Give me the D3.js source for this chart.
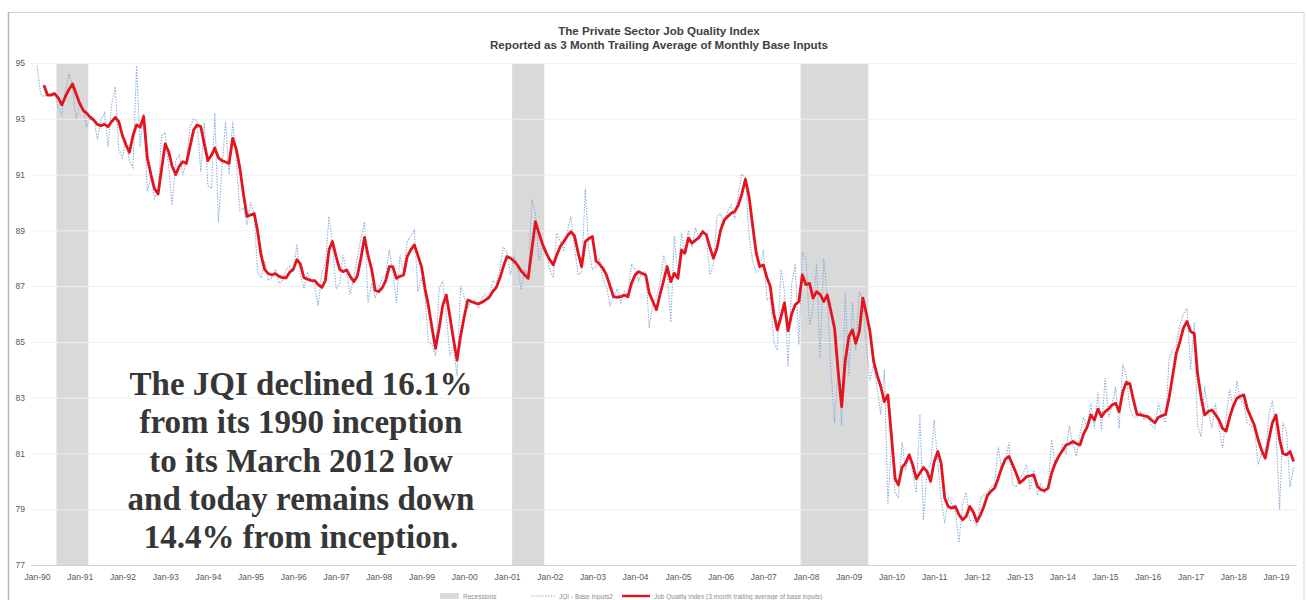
<!DOCTYPE html>
<html>
<head>
<meta charset="utf-8">
<script src="https://cdn.jsdelivr.net/npm/d3@7"></script>
<style>
  html, body { margin: 0; padding: 0; background: #fff; }
  svg { display: block; }
</style>
</head>
<body>
<script>
// Private Sector Job Quality Index, monthly from Jan 1990 to Jun 2019.

const titleLines = [
  "The Private Sector Job Quality Index",
  "Reported as 3 Month Trailing Average of Monthly Base Inputs"
];

const firstMonth = "1990-01";

// JQI monthly base inputs (one row per year)
const baseInputs = [
  94.9, 93.9, 93.8, 93.85, 93.9, 93.95, 93.4, 93.15, 94.0, 94.65, 94.1, 93.0,
  93.55, 93.35, 92.7, 93.1, 93.05, 92.25, 92.95, 93.2, 92.0, 93.5, 94.15, 91.9,
  91.6, 92.3, 91.5, 91.25, 94.9, 92.0, 93.2, 90.4, 90.9, 90.15, 90.4, 92.4,
  92.5, 91.2, 89.9, 91.5, 91.7, 91.0, 91.5, 92.7, 93.0, 92.9, 91.1, 92.85,
  90.6, 90.5, 93.2, 89.3, 91.2, 92.9, 91.0, 92.9, 91.5, 89.7, 89.8, 89.2,
  90.0, 89.6, 87.5, 87.3, 87.9, 87.2, 87.3, 87.6, 87.1, 87.2, 87.6, 87.7,
  87.5, 88.5, 87.4, 86.9, 87.5, 87.2, 87.0, 86.3, 87.5, 87.8, 89.5, 88.5,
  86.9, 87.1, 88.1, 87.5, 86.7, 87.3, 88.0, 88.7, 89.3, 86.4, 87.1, 86.6,
  86.9, 87.3, 87.4, 88.3, 87.5, 86.4, 88.1, 87.5, 88.6, 88.8, 89.0, 86.8,
  87.3, 86.6, 85.0, 84.9, 84.5, 86.9, 87.2, 86.0, 84.5, 84.8, 83.8, 87.0,
  86.6, 86.2, 86.5, 86.5, 86.2, 86.6, 86.7, 86.5, 87.2, 87.1, 87.6, 88.4,
  88.2, 87.4, 88.1, 87.7, 86.9, 87.6, 87.2, 90.1, 89.6, 87.9, 88.4, 88.3,
  87.6, 87.3, 88.9, 88.6, 88.3, 89.0, 89.5, 88.4, 87.4, 87.5, 90.5, 88.3,
  87.6, 87.7, 88.0, 87.2, 87.0, 86.3, 86.6, 86.9, 86.4, 86.8, 86.7, 87.8,
  87.6, 87.2, 87.5, 87.5, 85.5, 86.4, 86.6, 87.1, 88.1, 87.6, 85.7, 88.8,
  87.4, 88.9, 88.2, 89.0, 88.4, 89.1, 88.7, 89.0, 88.8, 87.4, 87.8, 89.5,
  89.6, 89.2, 89.7, 89.9, 89.4, 90.3, 91.0, 90.9, 88.8, 87.9, 87.5, 87.6,
  88.3, 86.5, 86.6, 85.0, 84.7, 87.6, 86.8, 84.1, 87.1, 87.8, 84.9, 88.2,
  88.0, 85.6, 86.2, 87.8, 84.4, 88.0, 86.6, 84.0, 82.1, 84.0, 82.0, 86.8,
  83.8, 86.4, 84.7, 86.8, 86.5, 84.8, 83.6, 84.2, 83.3, 82.4, 84.0, 79.2,
  81.4, 79.6, 79.4, 81.4, 80.4, 81.0, 80.3, 79.6, 82.4, 78.6, 80.4, 80.6,
  82.2, 80.6, 79.4, 78.5, 79.4, 79.2, 78.9, 77.8, 79.2, 79.6, 78.6, 78.6,
  78.4, 79.4, 79.5, 79.6, 79.8, 79.9, 81.25, 80.4, 80.7, 81.4, 79.9, 79.8,
  80.1, 80.3, 80.6, 79.7, 80.4, 79.5, 79.9, 79.6, 79.8, 81.5, 80.6, 80.8,
  81.3, 81.0, 82.0, 81.3, 80.9, 81.7, 82.3, 81.9, 82.8, 81.9, 83.2, 81.8,
  83.7, 82.3, 82.7, 83.4, 81.9, 84.2, 83.8, 82.6, 82.3, 82.3, 82.5, 82.2,
  82.3, 82.0, 81.9, 82.8, 82.3, 82.1, 84.4, 84.7, 84.9, 85.6, 86.0, 86.2,
  84.0, 85.7, 82.0, 81.6, 83.4, 82.5, 81.9, 82.8, 81.9, 81.2, 82.3, 83.3,
  82.6, 83.6, 82.9, 82.8, 82.1, 82.0, 81.9, 80.6, 81.0, 80.9, 82.4, 82.9,
  81.8, 79.0, 82.1, 81.8, 79.8, 80.5
];

// Job Quality Index, 3 month trailing average (one row per year)
const trailingAvg = [
  null, null, 94.2, 93.85, 93.85, 93.9, 93.75, 93.5, 93.8, 94.05, 94.25, 93.9,
  93.55, 93.3, 93.2, 93.05, 92.95, 92.8, 92.75, 92.8, 92.72, 92.9, 93.05, 92.9,
  92.4, 92.06, 91.8, 92.4, 92.78, 92.7, 93.08, 91.6, 91.0, 90.5, 90.3, 91.2,
  92.1, 91.8, 91.3, 91.0, 91.3, 91.46, 91.4, 92.0, 92.6, 92.78, 92.72, 92.1,
  91.5, 91.7, 91.95, 91.6, 91.5, 91.45, 91.4, 92.3, 91.9, 91.24, 90.3, 89.5,
  89.55, 89.6, 89.0, 88.1, 87.6, 87.45, 87.4, 87.45, 87.35, 87.3, 87.3, 87.5,
  87.6, 87.95, 87.8, 87.3, 87.25, 87.2, 87.2, 87.05, 86.95, 87.2, 88.3, 88.6,
  88.06, 87.6, 87.52, 87.58, 87.35, 87.16, 87.35, 88.0, 88.75, 88.1, 87.6, 86.85,
  86.8, 86.95, 87.2, 87.7, 87.7, 87.28, 87.35, 87.4, 88.06, 88.3, 88.48, 88.1,
  87.7, 86.9, 86.3, 85.5, 84.77, 85.5, 86.3, 86.68, 85.9, 85.1, 84.35, 85.2,
  85.9, 86.5, 86.45, 86.4, 86.36, 86.42, 86.5, 86.6, 86.8, 86.95, 87.28, 87.7,
  88.06, 88.0, 87.9, 87.75, 87.55, 87.4, 87.28, 88.3, 89.31, 88.9, 88.5, 88.2,
  87.95, 87.76, 88.1, 88.42, 88.6, 88.8, 88.95, 88.8, 88.2, 87.7, 88.6, 88.7,
  88.78, 87.9, 87.8, 87.64, 87.4, 87.0, 86.62, 86.6, 86.62, 86.68, 86.62, 87.1,
  87.4, 87.52, 87.45, 87.4, 86.75, 86.45, 86.15, 86.7, 87.2, 87.7, 87.16, 87.46,
  87.28, 88.3, 88.18, 88.72, 88.54, 88.65, 88.75, 88.95, 88.84, 88.4, 88.0, 88.36,
  89.0, 89.37, 89.49, 89.61, 89.67, 89.9, 90.3, 90.83, 90.21, 89.2, 88.2, 87.7,
  87.76, 87.3, 87.0, 86.0, 85.43, 85.9, 86.4, 85.4, 86.0, 86.33, 86.45, 87.4,
  87.05, 87.1, 86.57, 86.8, 86.7, 86.45, 86.68, 86.1, 85.5, 84.0, 82.68, 84.3,
  85.19, 85.43, 84.95, 85.37, 86.57, 86.0, 85.37, 84.3, 83.8, 83.4, 82.86, 83.1,
  81.6, 80.1, 79.87, 80.5, 80.65, 80.95, 80.6, 80.1, 80.3, 80.5, 80.35, 80.0,
  80.7, 81.07, 80.65, 79.4, 79.1, 79.04, 79.1, 78.8, 78.62, 78.74, 79.1, 78.9,
  78.56, 78.8, 79.1, 79.5, 79.65, 79.76, 80.1, 80.5, 80.8, 80.89, 80.6, 80.3,
  79.94, 80.05, 80.17, 80.2, 80.23, 79.82, 79.7, 79.67, 79.76, 80.3, 80.65, 80.9,
  81.1, 81.3, 81.35, 81.43, 81.35, 81.31, 81.7, 81.95, 82.38, 82.2, 82.59, 82.32,
  82.5, 82.6, 82.74, 82.8, 82.5, 83.2, 83.55, 83.5, 82.9, 82.4, 82.38, 82.35,
  82.32, 82.2, 82.1, 82.3, 82.35, 82.4, 83.0, 83.8, 84.6, 85.0, 85.5, 85.73,
  85.37, 85.3, 83.88, 83.0, 82.38, 82.5, 82.56, 82.4, 82.2, 81.9, 81.8, 82.3,
  82.7, 82.98, 83.05, 83.1, 82.6, 82.3, 82.0, 81.5, 81.1, 80.83, 81.5, 82.1,
  82.38, 81.49, 81.0, 80.95, 81.07, 80.71
];

// NBER recessions (first and last month)
const recessions = [
  { start: "1990-07", end: "1991-03" },
  { start: "2001-03", end: "2001-11" },
  { start: "2007-12", end: "2009-06" }
];

const yTicks = [77, 79, 81, 83, 85, 87, 89, 91, 93, 95];

const xTickLabels = [
  "Jan-90", "Jan-91", "Jan-92", "Jan-93", "Jan-94", "Jan-95", "Jan-96", "Jan-97",
  "Jan-98", "Jan-99", "Jan-00", "Jan-01", "Jan-02", "Jan-03", "Jan-04", "Jan-05",
  "Jan-06", "Jan-07", "Jan-08", "Jan-09", "Jan-10", "Jan-11", "Jan-12", "Jan-13",
  "Jan-14", "Jan-15", "Jan-16", "Jan-17", "Jan-18", "Jan-19"
];

const noteLines = [
  "The JQI declined 16.1%",
  "from its 1990 inception",
  "to its March 2012 low",
  "and today remains down",
  "14.4% from inception."
];

const legendItems = [
  "Recessions",
  "JQI - Base Inputs2",
  "Job Quality Index (3 month trailing average of base inputs)"
];

// ---------------------------------------------------------------
const W = 1307, H = 600;
const plotLeft = 31, plotRight = 1297, plotTop = 63, plotBottom = 565;
const sans = "'Liberation Sans', Arial, sans-serif";

const parseMonth = d3.timeParse("%Y-%m");
const start = parseMonth(firstMonth);
const monthAt = i => new Date(start.getFullYear(), start.getMonth() + i, 1);

const x = d3.scaleTime()
  .domain([new Date(1990, 0, 1), new Date(2019, 0, 1)])
  .range([37, 1276]);
const y = d3.scaleLinear().domain([77, 95]).range([plotBottom, plotTop]);

const svg = d3.select("body").append("svg")
  .attr("width", W).attr("height", H)
  .style("font-family", sans);

// chart frame
svg.append("rect")
  .attr("x", 8.5).attr("y", 12.5)
  .attr("width", 1295.5).attr("height", 620)
  .attr("fill", "#fff")
  .attr("stroke", "#d4d4d4").attr("stroke-width", 1);
svg.append("line")
  .attr("x1", 8.5).attr("x2", 8.5).attr("y1", 12).attr("y2", H)
  .attr("stroke", "#b8b8b8").attr("stroke-width", 1.5);

// recession shading
const bandStart = d => d3.timeDay.offset(parseMonth(d.start), -15);
const bandEnd = d => d3.timeDay.offset(parseMonth(d.end), 15);
svg.append("g").selectAll("rect")
  .data(recessions)
  .join("rect")
  .attr("x", d => x(bandStart(d)))
  .attr("width", d => x(bandEnd(d)) - x(bandStart(d)))
  .attr("y", plotTop)
  .attr("height", plotBottom - plotTop)
  .attr("fill", "#d9d9d9");

// horizontal gridlines + value axis
const yAxis = svg.append("g")
  .attr("transform", `translate(${plotLeft},0)`)
  .call(d3.axisLeft(y)
    .tickValues(yTicks)
    .tickSizeInner(-(plotRight - plotLeft))
    .tickSizeOuter(0)
    .tickPadding(6)
    .tickFormat(d3.format("d")));
yAxis.select(".domain").remove();
yAxis.selectAll(".tick line")
  .attr("stroke", d => d === 77 ? "#d0d0d0" : "#efefef")
  .attr("stroke-width", 1);
yAxis.selectAll(".tick text")
  .attr("fill", "#595959")
  .style("font-size", "8.5px")
  .style("font-family", sans);

// time axis
const xAxis = svg.append("g")
  .attr("transform", `translate(0,${plotBottom})`)
  .call(d3.axisBottom(x)
    .tickValues(xTickLabels.map((_, i) => new Date(1990 + i, 0, 1)))
    .tickFormat((_, i) => xTickLabels[i])
    .tickSize(0)
    .tickPadding(9));
xAxis.select(".domain").remove();
xAxis.selectAll(".tick text")
  .attr("fill", "#595959")
  .style("font-size", "8.5px")
  .style("font-family", sans);

// series
const baseData = baseInputs.map((v, i) => ({ date: monthAt(i), value: v }));
const avgData = trailingAvg.map((v, i) => ({ date: monthAt(i), value: v }));

const line = d3.line()
  .defined(d => d.value != null)
  .x(d => x(d.date))
  .y(d => y(d.value));

svg.append("path")
  .datum(baseData)
  .attr("d", line)
  .attr("fill", "none")
  .attr("stroke", "#86acdc")
  .attr("stroke-width", 1.1)
  .attr("stroke-dasharray", "1.4,1.4");

svg.append("path")
  .datum(avgData)
  .attr("d", line)
  .attr("fill", "none")
  .attr("stroke", "#e3141e")
  .attr("stroke-width", 2.8)
  .attr("stroke-linejoin", "round");

// title
svg.append("g").selectAll("text")
  .data(titleLines)
  .join("text")
  .attr("x", 659)
  .attr("y", (d, i) => 35 + i * 14)
  .attr("text-anchor", "middle")
  .attr("fill", "#404040")
  .style("font-size", "11.6px")
  .style("font-weight", "bold")
  .text(d => d);

// note
svg.append("g").selectAll("text")
  .data(noteLines)
  .join("text")
  .attr("x", 301)
  .attr("y", (d, i) => 395 + i * 38.3)
  .attr("text-anchor", "middle")
  .attr("fill", "#363636")
  .style("font-family", "'Liberation Serif', 'Times New Roman', serif")
  .style("font-weight", "bold")
  .style("font-size", "33px")
  .text(d => d);

// legend
const lg = svg.append("g").style("font-size", "6.5px").attr("fill", "#8c8c8c");
lg.append("rect").attr("x", 440).attr("y", 593).attr("width", 19).attr("height", 6).attr("fill", "#d9d9d9");
lg.append("text").attr("x", 463).attr("y", 598.5).text(legendItems[0]);
lg.append("line").attr("x1", 531).attr("x2", 556).attr("y1", 596).attr("y2", 596)
  .attr("stroke", "#86acdc").attr("stroke-width", 1.1).attr("stroke-dasharray", "1.4,1.4");
lg.append("text").attr("x", 559).attr("y", 598.5).text(legendItems[1]);
lg.append("line").attr("x1", 622).attr("x2", 650).attr("y1", 596).attr("y2", 596)
  .attr("stroke", "#e3141e").attr("stroke-width", 2.4);
lg.append("text").attr("x", 654).attr("y", 598.5).text(legendItems[2]);
</script>
</body>
</html>
